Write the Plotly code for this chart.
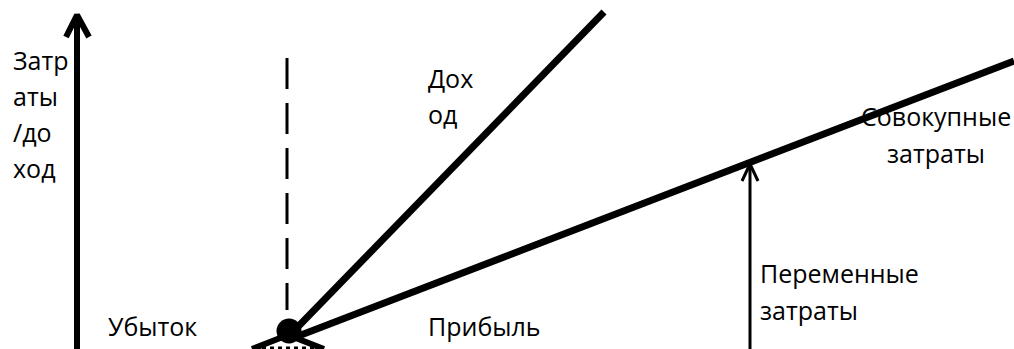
import plotly.graph_objects as go

W, H = 1014, 349

# Schematic break-even diagram (coordinates in drawing units, y measured downward)
axis_x = [77, 77]
axis_y = [349, 16]
axis_head_x = [66, 77, 89]
axis_head_y = [37, 15, 37]

be_x = [287, 287]            # dashed break-even line
be_y = [58, 310]

revenue_x = [288, 604]
revenue_y = [337, 12]

total_cost_x = [288, 1014]
total_cost_y = [340, 61]

lower_x = [252, 288, 324]
lower_y = [349, 335, 349]

base_x = [262, 316]
base_y = [348, 348]

var_x = [750, 750]
var_y = [349, 166]
var_head_x = [742, 750, 758]
var_head_y = [181, 164, 181]

dot_x = [289]
dot_y = [331]

labels = [
    ("Затр", 11, 60, "left"),
    ("аты", 11, 96, "left"),
    ("/до", 11, 132, "left"),
    ("ход", 11, 168, "left"),
    ("Дох", 426, 78, "left"),
    ("од", 426, 114, "left"),
    ("Убыток", 106, 326, "left"),
    ("Прибыль", 426, 326, "left"),
    ("Совокупные", 1013, 116, "right"),
    ("затраты", 936, 153, "center"),
    ("Переменные", 758, 273, "left"),
    ("затраты", 758, 310, "left"),
]

fig = go.Figure()

def line(x, y, w, dash="solid"):
    fig.add_trace(go.Scatter(x=x, y=y, mode="lines",
                             line=dict(color="black", width=w, dash=dash),
                             hoverinfo="skip", showlegend=False))

line(axis_x, axis_y, 6)
line(axis_head_x, axis_head_y, 6)
line(be_x, be_y, 3, dash="31px,14px")
line(revenue_x, revenue_y, 7)
line(total_cost_x, total_cost_y, 7)
line(lower_x, lower_y, 6)
line(base_x, base_y, 3, dash="4px,4px")
line(var_x, var_y, 3)
line(var_head_x, var_head_y, 3)

fig.add_trace(go.Scatter(x=dot_x, y=dot_y, mode="markers",
                         marker=dict(color="black", size=25),
                         hoverinfo="skip", showlegend=False))

for text, x, y, anchor in labels:
    fig.add_annotation(x=x, y=y, text=text, showarrow=False,
                       xanchor=anchor, yanchor="middle",
                       font=dict(family="Open Sans", size=25, color="black"))

fig.update_layout(
    width=W, height=H,
    margin=dict(l=0, r=0, t=0, b=0),
    paper_bgcolor="white", plot_bgcolor="white",
    xaxis=dict(range=[0, W], visible=False, fixedrange=True),
    yaxis=dict(range=[H, 0], visible=False, fixedrange=True),
)

fig.write_html("out.html", config={"displayModeBar": False},
               post_script="document.body.style.margin='0px';document.body.style.overflow='hidden';")
